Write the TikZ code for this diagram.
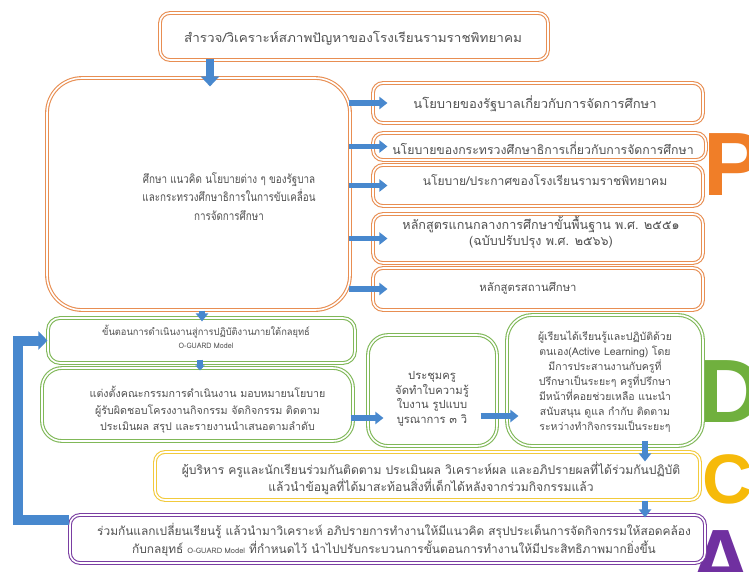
\documentclass[tikz,border=0pt]{standalone}
\usepackage{fontspec}
\usepackage{graphicx}
\newfontfamily\thai[Script=Thai]{Loma}
\newfontfamily\bigsans{Liberation Sans}
\usetikzlibrary{arrows.meta,calc}
\definecolor{orn}{RGB}{232,142,82}
\definecolor{grn}{RGB}{128,184,88}
\definecolor{ylw}{RGB}{242,202,60}
\definecolor{prp}{RGB}{122,62,162}
\definecolor{blu}{RGB}{72,136,206}
\definecolor{txt}{RGB}{80,80,80}
\definecolor{Pc}{RGB}{240,126,40}
\definecolor{Dc}{RGB}{112,176,62}
\definecolor{Cc}{RGB}{246,186,10}
\definecolor{Ac}{RGB}{112,48,160}
\tikzset{
  box/.style={draw=#1, double=white, double distance=1.6pt, line width=1.1pt,
    rounded corners=10pt, fill=white, rectangle, inner sep=0pt},
  lbl/.style={font=\thai\fontsize{10}{15}\selectfont, text=txt, align=center, inner sep=0pt},
  fs/.style 2 args={font=\thai\fontsize{#1}{#2}\selectfont},
  barrow/.style={draw=blu, line width=8pt, -{Triangle[width=18pt,length=10pt]}},
  sarrow/.style={draw=blu, line width=5.5pt, -{Triangle[width=12pt,length=8pt]}},
  fb/.style={draw=blu, line width=10pt, line join=miter, -{Triangle[width=18pt,length=9pt]}},
  bigl/.style={font=\bigsans\bfseries\fontsize{90}{90}\selectfont, inner sep=0pt, anchor=base west},
}
\newcommand{\sm}[1]{{\fontsize{7.5}{10}\selectfont #1}}
\newcommand{\sxt}[2]{\scalebox{#1}[1]{\begin{tabular}{@{}c@{}}#2\end{tabular}}}
\begin{document}
\begin{tikzpicture}[x=1pt,y=-1pt]
\fill[white] (0,0) rectangle (749,571);
\useasboundingbox (0,0) rectangle (749,571);
\node[lbl, text=black, anchor=north] (pg) at (587,-6) {ฯ};
% big letters
\node[bigl, text=Pc] (P) at (703,195) {P};
\node[bigl, text=Dc] (D) at (698,422) {D};
\node[bigl, text=Cc, font=\bigsans\bfseries\fontsize{70}{70}\selectfont] (C) at (702,503) {C};
\node[bigl, text=Ac] (A) at (688,592) {A};
% boxes
\node[box=orn, minimum width=388pt, minimum height=47pt] (top) at (354,36.5) {};
\node[box=orn, rounded corners=35pt, minimum width=303pt, minimum height=232pt] (big) at (198.5,194) {};
\node[box=orn, minimum width=330pt, minimum height=40pt] (ra) at (538,103) {};
\node[box=orn, minimum width=333pt, minimum height=27pt] (rb) at (539.5,146.5) {};
\node[box=orn, minimum width=330pt, minimum height=41pt] (rc) at (538,185.5) {};
\node[box=orn, minimum width=330pt, minimum height=49pt] (rd) at (538,238.5) {};
\node[box=orn, minimum width=330pt, minimum height=42pt] (re) at (538,289) {};
\node[box=grn, rounded corners=12pt, minimum width=307pt, minimum height=45pt] (g1) at (201.5,340.5) {};
\node[box=grn, rounded corners=20pt, minimum width=311pt, minimum height=73pt] (g2) at (197.5,404.5) {};
\node[box=grn, rounded corners=20pt, minimum width=129pt, minimum height=111pt] (g3) at (432.5,390.5) {};
\node[box=grn, rounded corners=25pt, minimum width=196pt, minimum height=131pt] (g4) at (605,380.5) {};
\node[box=ylw, minimum width=545pt, minimum height=48pt] (yl) at (427.5,476) {};
\node[box=prp, minimum width=635pt, minimum height=48pt] (pu) at (387.5,539) {};
% texts
\node[lbl, fs={12.5}{16}] (ttop) at (353,39) {\sxt{1.08}{สำรวจ/วิเคราะห์สภาพปัญหาของโรงเรียนรามราชพิทยาคม}};
\node[lbl, fs={12}{18.5}] (tbig) at (229,198) {\sxt{0.82}{ศึกษา แนวคิด นโยบายต่าง ๆ ของรัฐบาล\\และกระทรวงศึกษาธิการในการขับเคลื่อน\\การจัดการศึกษา}};
\node[lbl, fs={12.5}{16}] (tra) at (535,104) {\sxt{1.04}{นโยบายของรัฐบาลเกี่ยวกับการจัดการศึกษา}};
\node[lbl, fs={12.3}{16}] (trb) at (543,148) {นโยบายของกระทรวงศึกษาธิการเกี่ยวกับการจัดการศึกษา};
\node[lbl, fs={12.1}{16}] (trc) at (545,180) {นโยบาย/ประกาศของโรงเรียนรามราชพิทยาคม};
\node[lbl, fs={12.6}{15.5}] (trd) at (541,232.5) {หลักสูตรแกนกลางการศึกษาขั้นพื้นฐาน พ.ศ. ๒๕๕๑\\(ฉบับปรับปรุง พ.ศ. ๒๕๖๖)};
\node[lbl, fs={11.3}{16}] (tre) at (528,288) {หลักสูตรสถานศึกษา};
\node[lbl, fs={9.8}{13}] (tg1) at (206,338.5) {\sxt{0.95}{ขั้นตอนการดำเนินงานสู่การปฏิบัติงานภายใต้กลยุทธ์\\\sm{O-GUARD Model}}};
\node[lbl, fs={10.7}{16.5}] (tg2) at (207.5,410) {แต่งตั้งคณะกรรมการดำเนินงาน มอบหมายนโยบาย\\ผู้รับผิดชอบโครงงานกิจกรรม จัดกิจกรรม ติดตาม\\ประเมินผล สรุป และรายงานนำเสนอตามลำดับ};
\node[lbl, fs={11.2}{14.5}] (tg3) at (432,399) {ประชุมครู\\จัดทำใบความรู้\\ใบงาน รูปแบบ\\บูรณาการ ๓ วิ};
\node[lbl, fs={10.5}{15}] (tg4) at (605,382) {ผู้เรียนได้เรียนรู้และปฏิบัติด้วย\\ตนเอง(Active Learning) โดย\\มีการประสานงานกับครูที่\\ปรึกษาเป็นระยะๆ ครูที่ปรึกษา\\มีหน้าที่คอยช่วยเหลือ แนะนำ\\สนับสนุน ดูแล กำกับ ติดตาม\\ระหว่างทำกิจกรรมเป็นระยะๆ};
\node[lbl, fs={12.1}{17}] (tyl) at (431,478.5) {ผู้บริหาร ครูและนักเรียนร่วมกันติดตาม ประเมินผล วิเคราะห์ผล และอภิปรายผลที่ได้ร่วมกันปฏิบัติ\\แล้วนำข้อมูลที่ได้มาสะท้อนสิ่งที่เด็กได้หลังจากร่วมกิจกรรมแล้ว};
\node[lbl, fs={11.9}{18}] (tpu) at (394,540) {ร่วมกันแลกเปลี่ยนเรียนรู้ แล้วนำมาวิเคราะห์ อภิปรายการทำงานให้มีแนวคิด สรุปประเด็นการจัดกิจกรรมให้สอดคล้อง\\กับกลยุทธ์ \sm{O-GUARD Model} ที่กำหนดไว้ นำไปปรับกระบวนการขั้นตอนการทำงานให้มีประสิทธิภาพมากยิ่งขึ้น};
% arrows
\draw[barrow] ([yshift=2pt]top.south -| 210,0) -- ([yshift=-9pt]big.north -| 210,0);
\draw[sarrow] ([xshift=-2pt]big.east |- ra.west) -- ([xshift=15pt]ra.west);
\draw[sarrow] ([xshift=-2pt]big.east |- rb.west) -- ([xshift=15pt]rb.west);
\draw[sarrow] ([xshift=-2pt]big.east |- rc.west) -- ([xshift=15pt]rc.west);
\draw[sarrow] ([xshift=-2pt]big.east |- rd.west) -- ([xshift=15pt]rd.west);
\draw[sarrow] ([xshift=-2pt]big.east |- re.west) -- ([xshift=15pt]re.west);
\draw[sarrow] (big.south -| 202,0) -- ([yshift=-4pt]g1.north -| 202,0);
\draw[sarrow, -{Triangle[width=9pt,length=5pt]}] ([yshift=4pt]g1.south -| 200,0) -- ([yshift=-3pt]g2.north -| 200,0);
\coordinate (a23) at ([yshift=-13.5pt]g2.east);
\draw[sarrow] ($(a23)+(-3,0)$) -- ($(a23 -| g3.west)+(16,0)$);
\coordinate (a34) at ([yshift=-25.5pt]g3.east);
\draw[sarrow] ($(a34)+(-17,0)$) -- ($(a34 -| g4.west)+(12,0)$);
\draw[sarrow] ([yshift=6pt]g4.south -| 645,0) -- ([yshift=-10pt]yl.north -| 645,0);
\draw[sarrow] (yl.south -| 645,0) -- ([yshift=-3pt]pu.north -| 645,0);
\draw[fb] ([yshift=19pt]pu.west) -| ([xshift=-29pt]g1.west) -- (g1.west);
\end{tikzpicture}
\end{document}
